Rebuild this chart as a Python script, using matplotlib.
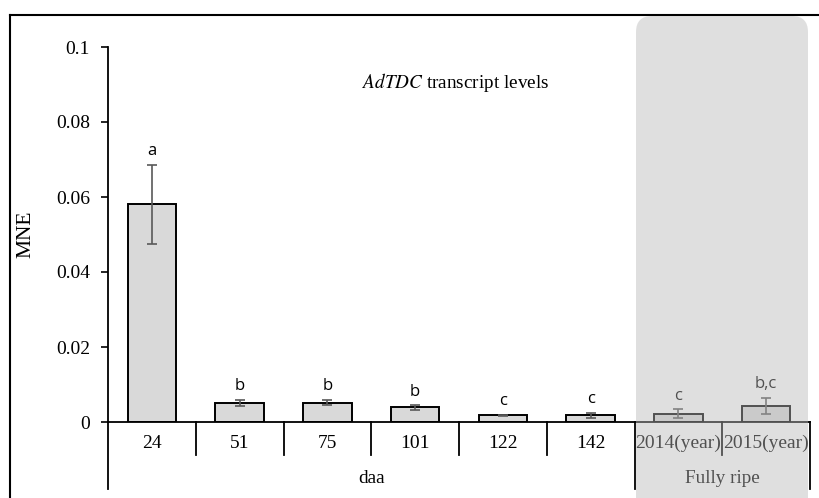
import matplotlib
matplotlib.use("Agg")
import matplotlib.pyplot as plt
from matplotlib.patches import FancyBboxPatch
from matplotlib.lines import Line2D

categories = ["24", "51", "75", "101", "122", "142", "2014(year)", "2015(year)"]
mne = [0.0581, 0.0052, 0.0052, 0.0039, 0.0018, 0.0018, 0.0022, 0.0043]
err = [0.0105, 0.0008, 0.0007, 0.0006, 0.0002, 0.0006, 0.0012, 0.0022]
letters = ["a", "b", "b", "b", "c", "c", "c", "b,c"]
groups = [("daa", 0, 5), ("Fully ripe", 6, 7)]
yticks = [0, 0.02, 0.04, 0.06, 0.08, 0.1]
ytick_labels = ["0", "0.02", "0.04", "0.06", "0.08", "0.1"]

plt.rcParams["mathtext.fontset"] = "stix"
serif = "Liberation Serif"

W, H = 819, 498
fig = plt.figure(figsize=(W / 100, H / 100), dpi=100)

def fx(px):
    return px / W

def fy(py):
    return 1 - py / H

ax = fig.add_axes([fx(108), fy(422), fx(810) - fx(108), fy(47) - fy(422)])
x = list(range(len(categories)))
ax.bar(x, mne, width=0.55, color="#d9d9d9", edgecolor="black", linewidth=1.4, zorder=2)
ax.errorbar(x, mne, yerr=err, fmt="none", ecolor="#595959", elinewidth=1.2,
            capsize=3.6, capthick=1.2, zorder=3)
for xi, m, e, lab in zip(x, mne, err, letters):
    ax.annotate(lab, (xi, m + e), xytext=(0, 4), textcoords="offset points",
                ha="center", va="bottom", fontsize=12, family="Open Sans")

ax.set_xlim(-0.5, len(categories) - 0.5)
ax.set_ylim(0, 0.1)
ax.set_yticks(yticks)
ax.set_yticklabels(ytick_labels, family=serif, fontsize=14)
ax.tick_params(axis="y", direction="out", length=5, width=1.2, pad=8)
ax.set_xticks([])
for s in ["top", "right"]:
    ax.spines[s].set_visible(False)
ax.spines["left"].set_linewidth(1.3)
ax.spines["bottom"].set_linewidth(1.3)
ax.set_ylabel("MNE", family=serif, fontsize=15.5, va="center")
ax.yaxis.set_label_coords((26 - 108) / (810 - 108), 0.5)

ax.text(0.495, 0.905, r"$\mathit{AdTDC}$ transcript levels", transform=ax.transAxes,
        ha="center", va="center", family=serif, fontsize=13.8)

# category labels and separators below the axis
trans = ax.get_xaxis_transform()
to_ax_y = lambda py: (422 - py) / (422 - 47)
for xi, c in zip(x, categories):
    ax.text(xi, to_ax_y(443), c, transform=trans, ha="center", va="center",
            family=serif, fontsize=14)
group_edges = {-0.5, 5.5, 7.5}
for b in [i - 0.5 for i in range(len(categories) + 1)]:
    low = 489 if b in group_edges else 455
    ax.add_line(Line2D([b, b], [0, to_ax_y(low)], transform=trans, color="black",
                       linewidth=1.3, clip_on=False))
for name, a, bnd in groups:
    ax.text((a + bnd) / 2, to_ax_y(478), name, transform=trans, ha="center",
            va="center", family=serif, fontsize=13.8)

# outer frame
fig.add_artist(Line2D([fx(10), 1], [fy(15), fy(15)], color="black", linewidth=1.5))
fig.add_artist(Line2D([fx(10), fx(10)], [fy(15), 0], color="black", linewidth=1.5))

# shaded overlay marking the fully ripe group
r = 16
box = FancyBboxPatch((fx(636 + r), fy(515 - r)), fx(808 - 636 - 2 * r),
                     fy(16 + r) - fy(515 - r),
                     boxstyle=f"round,pad={fx(r)},rounding_size={fx(r)}",
                     transform=fig.transFigure, facecolor="#b8b8b8", alpha=0.44,
                     edgecolor="none", zorder=5, mutation_aspect=W / H)
fig.add_artist(box)

fig.savefig("out.png", dpi=100)
